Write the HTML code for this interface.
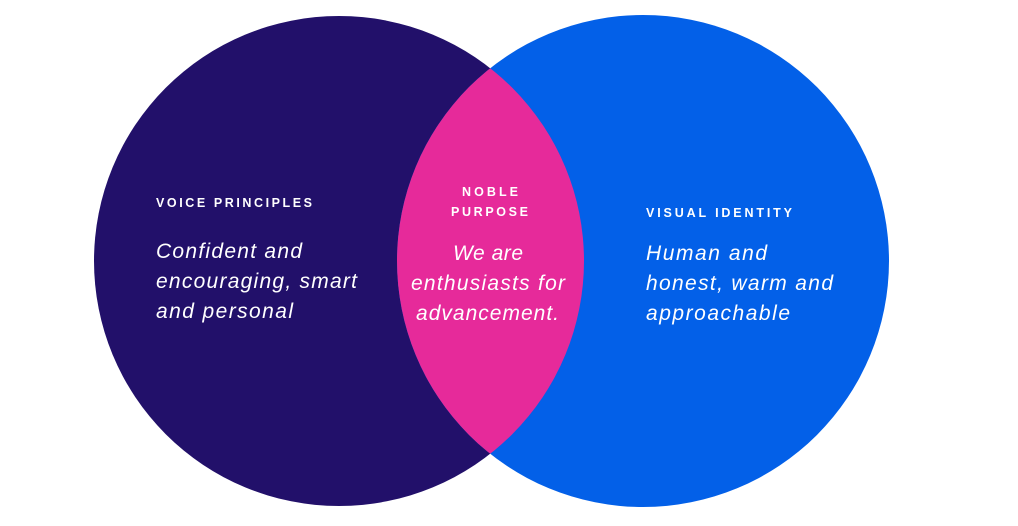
<!DOCTYPE html>
<html><head><meta charset="utf-8"><style>
html,body{margin:0;padding:0;background:#fff;width:1018px;height:526px;overflow:hidden}
svg{display:block}
.h{font-family:"Liberation Sans",sans-serif;font-weight:bold;font-size:12.5px;fill:#fff}
.t{font-family:"Liberation Sans",sans-serif;font-style:italic;font-size:21px;fill:#fff}
</style></head><body>
<svg width="1018" height="526" viewBox="0 0 1018 526">
<defs><clipPath id="lc"><circle cx="339" cy="261" r="245"/></clipPath></defs>
<circle cx="339" cy="261" r="245" fill="#22106a"/>
<circle cx="643" cy="261" r="246" fill="#0360e8"/>
<circle cx="643" cy="261" r="246" fill="#e62a9a" clip-path="url(#lc)"/>
<text class="h" x="156" y="207" textLength="156" lengthAdjust="spacing">VOICE PRINCIPLES</text>
<text class="t" x="156" y="258" textLength="146" lengthAdjust="spacing">Confident and</text>
<text class="t" x="156" y="288" textLength="201" lengthAdjust="spacing">encouraging, smart</text>
<text class="t" x="156" y="318" textLength="137" lengthAdjust="spacing">and personal</text>
<text class="h" x="462" y="196" textLength="56" lengthAdjust="spacing">NOBLE</text>
<text class="h" x="451" y="216" textLength="77" lengthAdjust="spacing">PURPOSE</text>
<text class="t" x="453" y="260" textLength="70" lengthAdjust="spacing">We are</text>
<text class="t" x="411" y="290" textLength="154" lengthAdjust="spacing">enthusiasts for</text>
<text class="t" x="416" y="320" textLength="143" lengthAdjust="spacing">advancement.</text>
<text class="h" x="646" y="217" textLength="146" lengthAdjust="spacing">VISUAL IDENTITY</text>
<text class="t" x="646" y="260" textLength="121" lengthAdjust="spacing">Human and</text>
<text class="t" x="646" y="290" textLength="187" lengthAdjust="spacing">honest, warm and</text>
<text class="t" x="646" y="320" textLength="144" lengthAdjust="spacing">approachable</text>
</svg>
</body></html>
